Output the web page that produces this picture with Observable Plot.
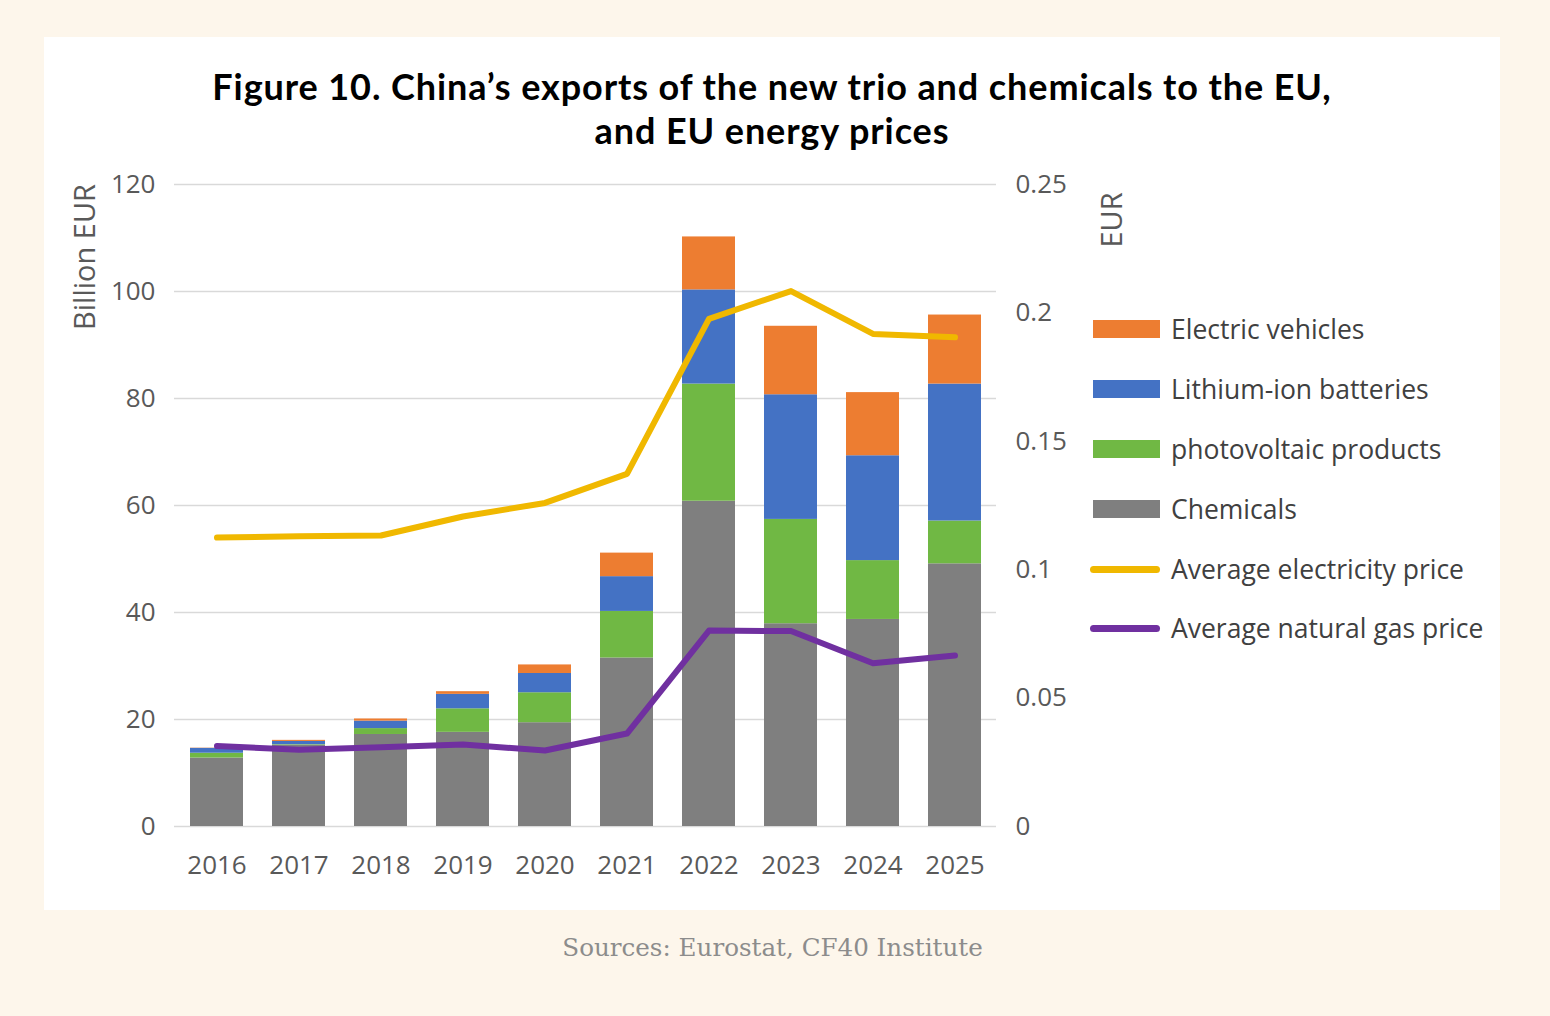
<!DOCTYPE html>
<html>
<head>
<meta charset="utf-8">
<script src="https://cdn.jsdelivr.net/npm/d3@7"></script>
<script src="https://cdn.jsdelivr.net/npm/@observablehq/plot@0.6"></script>
<style>
  body { margin:0; background:#fdf6eb; width:1550px; height:1016px; position:relative; overflow:hidden; font-family:"Open Sans", sans-serif; }
  #panel { position:absolute; left:44px; top:37px; width:1456px; height:873px; background:#fff; }
  .title { position:absolute; left:0; width:100%; text-align:center; font-family:Lato, sans-serif; font-weight:bold; font-size:36px; letter-spacing:0.9px; line-height:44px; height:44px; color:#000; white-space:nowrap; }
  #chart { position:absolute; left:0; top:120px; }
  .axt { position:absolute; font-size:29px; color:#595959; white-space:nowrap; transform:translate(-50%,-50%) rotate(-90deg); }
  #legend { position:absolute; left:1046px; top:0; }
  .li { position:absolute; left:0; height:30px; display:flex; align-items:center; white-space:nowrap; font-size:26.5px; color:#404040; transform:translateY(-50%); }
  .sw { width:67px; height:18px; margin-left:3px; margin-right:11px; }
  .ln { width:70px; height:7px; border-radius:4px; margin-left:0; margin-right:11px; }
  #source { position:absolute; left:0; width:1545px; top:933px; text-align:center; font-family:"DejaVu Serif", serif; font-size:24.6px; color:#8c8c8c; }
</style>
</head>
<body>
<div id="panel">
  <div class="title" style="top:27px;">Figure 10. China’s exports of the new trio and chemicals to the EU,</div>
  <div class="title" style="top:71px;">and EU energy prices</div>
  <div id="chart"></div>
  <div class="axt" style="left:39px; top:220px;">Billion EUR</div>
  <div class="axt" style="left:1066px; top:183px;">EUR</div>
  <div id="legend"></div>
</div>
<div id="source">Sources: Eurostat, CF40 Institute</div>
<script>
const years = ["2016","2017","2018","2019","2020","2021","2022","2023","2024","2025"];
const chemicals = [12.8, 15.2, 17.2, 17.6, 19.4, 31.5, 60.8, 37.9, 38.7, 49.1];
const photovoltaic = [0.9, 0.1, 1.1, 4.4, 5.6, 8.7, 21.9, 19.5, 11.0, 8.0];
const lithium = [0.9, 0.6, 1.4, 2.7, 3.6, 6.5, 17.6, 23.3, 19.6, 25.6];
const electricVehicles = [0.05, 0.2, 0.4, 0.5, 1.6, 4.4, 9.9, 12.8, 11.8, 12.9];
const electricityPrice = [0.1125, 0.113, 0.1133, 0.1207, 0.126, 0.1373, 0.1977, 0.2085, 0.1918, 0.1905];
const gasPrice = [0.0313, 0.0299, 0.0309, 0.0319, 0.0296, 0.0362, 0.0763, 0.0761, 0.0636, 0.0666];
const barSeries = ["Chemicals", "photovoltaic products", "Lithium-ion batteries", "Electric vehicles"];
const barColors = ["#7f7f7f", "#70b844", "#4472c4", "#ed7d31"];
const lineSeries = ["Average electricity price", "Average natural gas price"];
const lineColors = ["#f0b800", "#7030a0"];
const leftTicks = [0, 20, 40, 60, 80, 100, 120];
const rightTicks = [0, 0.05, 0.1, 0.15, 0.2, 0.25];

const leftMax = 120, rightMax = 0.25;
const k = leftMax / rightMax;

const barValues = [chemicals, photovoltaic, lithium, electricVehicles];
const bars = [];
barSeries.forEach((s, i) => years.forEach((y, j) => bars.push({year: y, series: s, value: barValues[i][j]})));
const elec = years.map((y, j) => ({year: y, v: electricityPrice[j]}));
const gas = years.map((y, j) => ({year: y, v: gasPrice[j]}));

const plot = Plot.plot({
  width: 1456,
  height: 739,
  marginLeft: 130,
  marginRight: 504,
  marginTop: 27,
  marginBottom: 70,
  style: {fontFamily: "'Open Sans', sans-serif", fontSize: "26px", color: "#595959", background: "transparent"},
  x: {domain: years, paddingInner: 0.355, paddingOuter: 0.1775, label: null},
  y: {domain: [0, leftMax], label: null},
  color: {domain: barSeries, range: barColors},
  marks: [
    Plot.ruleY(leftTicks, {stroke: "#d9d9d9", strokeWidth: 1.5}),
    Plot.barY(bars, {x: "year", y: "value", fill: "series"}),
    Plot.line(elec, {x: "year", y: d => d.v * k, stroke: lineColors[0], strokeWidth: 6, strokeLinecap: "round", strokeLinejoin: "round"}),
    Plot.line(gas, {x: "year", y: d => d.v * k, stroke: lineColors[1], strokeWidth: 6, strokeLinecap: "round", strokeLinejoin: "round"}),
    Plot.axisY({anchor: "left", ticks: leftTicks, tickSize: 0, tickPadding: 19, label: null, fill: "#595959"}),
    Plot.axisY({anchor: "right", ticks: rightTicks.map(v => v * k), tickFormat: d => String(+(d / k).toFixed(2)), tickSize: 0, tickPadding: 19, label: null, fill: "#595959"}),
    Plot.axisX({anchor: "bottom", tickSize: 0, tickPadding: 29, label: null, fill: "#595959"})
  ]
});
document.getElementById("chart").appendChild(plot);

const legend = document.getElementById("legend");
const rowsY = [292, 352, 412, 472, 532, 591];
const items = [
  {name: barSeries[3], color: barColors[3], type: "rect"},
  {name: barSeries[2], color: barColors[2], type: "rect"},
  {name: barSeries[1], color: barColors[1], type: "rect"},
  {name: barSeries[0], color: barColors[0], type: "rect"},
  {name: lineSeries[0], color: lineColors[0], type: "line"},
  {name: lineSeries[1], color: lineColors[1], type: "line"}
];
items.forEach((it, i) => {
  const row = document.createElement("div");
  row.className = "li";
  row.style.top = rowsY[i] + "px";
  const sw = document.createElement("div");
  sw.className = it.type === "rect" ? "sw" : "ln";
  sw.style.background = it.color;
  const tx = document.createElement("span");
  tx.textContent = it.name;
  row.appendChild(sw); row.appendChild(tx);
  legend.appendChild(row);
});
</script>
</body>
</html>
